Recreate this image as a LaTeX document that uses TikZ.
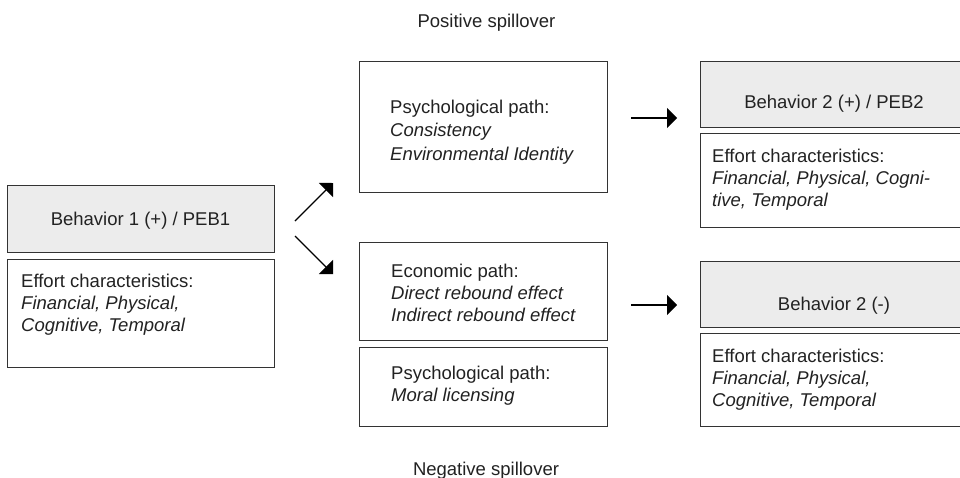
\documentclass[tikz,border=0pt]{standalone}
\usepackage{fontspec}
\setmainfont{Liberation Sans}
\usetikzlibrary{arrows.meta}
\definecolor{boxline}{HTML}{333333}
\definecolor{boxfill}{HTML}{ECECEC}
\definecolor{txt}{HTML}{222222}
\begin{document}
\begin{tikzpicture}[x=1pt,y=-1pt,
  box/.style={draw=boxline,line width=1.3pt,rectangle,inner sep=0pt,anchor=north west},
  graybox/.style={box,fill=boxfill},
  lbl/.style={inner sep=0pt,text=txt,font=\fontsize{18.5}{21.7}\selectfont},
  tl/.style={lbl,align=left,anchor=north west},
  arr/.style={draw=black,line width=1.2pt,-{Triangle[length=10pt,width=20pt]}}]
\useasboundingbox (0,0) rectangle (960,477);
\clip (0,0) rectangle (960,477);
\fill[white] (0,0) rectangle (960,477);

% left column
\node[graybox,minimum width=267pt,minimum height=67pt] (b1) at (7,185) {};
\node[lbl,anchor=base] (b1t) at (140.5,225) {Behavior 1 (+) / PEB1};
\node[box,minimum width=267pt,minimum height=108pt] (e1) at (7,259) {};
\node[tl] (e1t) at (21,274) {Effort characteristics:\\\itshape Financial, Physical,\\\itshape Cognitive, Temporal};

% middle column
\node[box,minimum width=248pt,minimum height=131pt] (p1) at (359,61) {};
\node[tl,font=\fontsize{18.5}{23.5}\selectfont] (p1t) at (390,99.5) {Psychological path:\\\itshape Consistency\\\itshape Environmental Identity};
\node[box,minimum width=248pt,minimum height=98pt] (ec) at (359,242) {};
\node[tl] (ect) at (391,264) {Economic path:\\\itshape Direct rebound effect\\\itshape Indirect rebound effect};
\node[box,minimum width=248pt,minimum height=79pt] (ml) at (359,347) {};
\node[tl] (mlt) at (391,366) {Psychological path:\\\itshape Moral licensing};

% right column
\node[graybox,minimum width=268pt,minimum height=66pt] (b2p) at (700,61) {};
\node[lbl,anchor=base] (b2pt) at (834,108) {Behavior 2 (+) / PEB2};
\node[box,minimum width=268pt,minimum height=94pt] (e2p) at (700,133) {};
\node[tl] (e2pt) at (712,149) {Effort characteristics:\\\itshape Financial, Physical, Cogni-\\\itshape tive, Temporal};
\node[graybox,minimum width=268pt,minimum height=66pt] (b2m) at (700,261) {};
\node[lbl,anchor=base] (b2mt) at (834,310) {Behavior 2 (-)};
\node[box,minimum width=268pt,minimum height=93pt] (e2m) at (700,333) {};
\node[tl] (e2mt) at (712,349) {Effort characteristics:\\\itshape Financial, Physical,\\\itshape Cognitive, Temporal};

% headings
\node[lbl,anchor=base] (pos) at (486.5,27) {Positive spillover};
\node[lbl,anchor=base] (neg) at (486,475) {Negative spillover};

% arrows
\coordinate (a1s) at (295,221);
\coordinate (a1e) at (333,183);
\coordinate (a2s) at (295,236);
\coordinate (a2e) at (333,274);
\coordinate (a3s) at (631,118);
\coordinate (a3e) at (677,118);
\coordinate (a4s) at (631,305);
\coordinate (a4e) at (677,305);
\draw[arr] (a1s) -- (a1e);
\draw[arr] (a2s) -- (a2e);
\draw[arr] (a3s) -- (a3e);
\draw[arr] (a4s) -- (a4e);
\end{tikzpicture}
\end{document}
